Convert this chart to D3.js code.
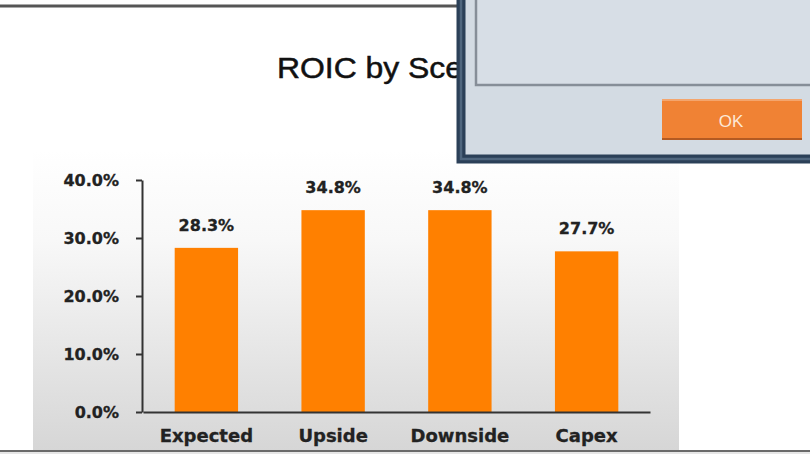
<!DOCTYPE html>
<html>
<head>
<meta charset="utf-8">
<script src="https://cdn.jsdelivr.net/npm/d3@7"></script>
<style>
  html, body { margin: 0; padding: 0; background: #ffffff; }
  svg { display: block; }
</style>
</head>
<body>
<script>
// ---- data ----
const categories = ["Expected", "Upside", "Downside", "Capex"];
const values = [28.3, 34.8, 34.8, 27.7];
const yTicks = [0, 10, 20, 30, 40];
const titleText = "ROIC by Scenario";
const buttonLabel = "OK";

const W = 810, H = 454;
const svg = d3.select("body").append("svg").attr("width", W).attr("height", H);

const defs = svg.append("defs");
const grad = defs.append("linearGradient").attr("id", "panelGrad")
  .attr("x1", 0).attr("y1", 0).attr("x2", 0).attr("y2", 1);
grad.append("stop").attr("offset", "0%").attr("stop-color", "#ffffff");
grad.append("stop").attr("offset", "30%").attr("stop-color", "#f8f8f8");
grad.append("stop").attr("offset", "100%").attr("stop-color", "#d6d6d6");

// top separator line
svg.append("line").attr("x1", 0).attr("x2", 470).attr("y1", 6).attr("y2", 6)
  .attr("stroke", "#555").attr("stroke-width", 3);

// chart panel with gradient
svg.append("rect").attr("x", 33).attr("y", 150).attr("width", 646).attr("height", 301)
  .attr("fill", "url(#panelGrad)");

// bottom frame line
svg.append("rect").attr("x", 0).attr("y", 451).attr("width", W).attr("height", 3).attr("fill", "#e6e6e6");
svg.append("line").attr("x1", 0).attr("x2", W).attr("y1", 451).attr("y2", 451)
  .attr("stroke", "#6a6a6a").attr("stroke-width", 2);

// title (slightly widened like the reference)
svg.append("text").attr("x", 0).attr("y", 0)
  .attr("transform", "translate(277,78) scale(1.1,1)")
  .attr("font-family", "Liberation Sans, Arial, sans-serif")
  .attr("font-size", 29).attr("fill", "#111")
  .attr("stroke", "#111").attr("stroke-width", 0.5)
  .text(titleText);

// scales
const x = d3.scaleBand().domain(categories).range([143, 650]).paddingInner(0.5).paddingOuter(0.25);
const y = d3.scaleLinear().domain([0, 40]).range([412, 180]);

// bars
svg.selectAll("rect.bar").data(values).enter().append("rect")
  .attr("class", "bar")
  .attr("x", (d, i) => x(categories[i]))
  .attr("y", d => y(d))
  .attr("width", x.bandwidth())
  .attr("height", d => y(0) - y(d))
  .attr("fill", "#ff8000");

const boldFont = "DejaVu Sans, Verdana, sans-serif";

// value labels
svg.selectAll("text.val").data(values).enter().append("text")
  .attr("class", "val")
  .attr("x", (d, i) => x(categories[i]) + x.bandwidth() / 2)
  .attr("y", d => y(d) - 17)
  .attr("text-anchor", "middle")
  .attr("font-family", boldFont)
  .attr("font-weight", "bold").attr("font-size", 16).attr("fill", "#222")
  .attr("stroke", "#222").attr("stroke-width", 0.3)
  .text(d => d.toFixed(1) + "%");

// y axis
const yAxis = svg.append("g").attr("transform", "translate(142,0)")
  .call(d3.axisLeft(y).tickValues(yTicks).tickSize(6).tickSizeOuter(0).tickPadding(17)
    .tickFormat(d => d.toFixed(1) + "%"));
yAxis.selectAll("path, line").attr("stroke", "#333").attr("stroke-width", 2);
yAxis.selectAll("text").attr("font-family", boldFont)
  .attr("font-weight", "bold").attr("font-size", 16).attr("fill", "#222")
  .attr("stroke", "#222").attr("stroke-width", 0.3);

// x axis
const xAxis = svg.append("g").attr("transform", "translate(0,412)")
  .call(d3.axisBottom(x).tickSize(0).tickSizeOuter(0).tickPadding(17));
xAxis.select("path").attr("stroke", "#333").attr("stroke-width", 2);
xAxis.selectAll("text").attr("font-family", boldFont)
  .attr("font-weight", "bold").attr("font-size", 18).attr("fill", "#222")
  .attr("stroke", "#222").attr("stroke-width", 0.3);

// dialog overlay
const dlg = svg.append("g");
dlg.append("rect").attr("x", 461).attr("y", -20).attr("width", 420).attr("height", 179)
  .attr("fill", "#d3dbe3").attr("stroke", "#2b4058").attr("stroke-width", 9);
dlg.append("rect").attr("x", 461).attr("y", -20).attr("width", 420).attr("height", 179)
  .attr("fill", "none").attr("stroke", "#4f667e").attr("stroke-width", 2.5);
dlg.append("rect").attr("x", 476).attr("y", -20).attr("width", 420).attr("height", 105)
  .attr("fill", "#d7dee6").attr("stroke", "#868e98").attr("stroke-width", 2.5);
dlg.append("rect").attr("x", 662).attr("y", 99).attr("width", 140).attr("height", 40)
  .attr("fill", "#f08234");
dlg.append("line").attr("x1", 662).attr("x2", 802).attr("y1", 139).attr("y2", 139)
  .attr("stroke", "#b35a22").attr("stroke-width", 2);
dlg.append("line").attr("x1", 662).attr("x2", 802).attr("y1", 100).attr("y2", 100)
  .attr("stroke", "#f6b080").attr("stroke-width", 1.5);
dlg.append("text").attr("x", 731).attr("y", 127).attr("text-anchor", "middle")
  .attr("font-family", "Liberation Sans, Arial, sans-serif")
  .attr("font-size", 17).attr("fill", "#fde8d6")
  .text(buttonLabel);
</script>
</body>
</html>
